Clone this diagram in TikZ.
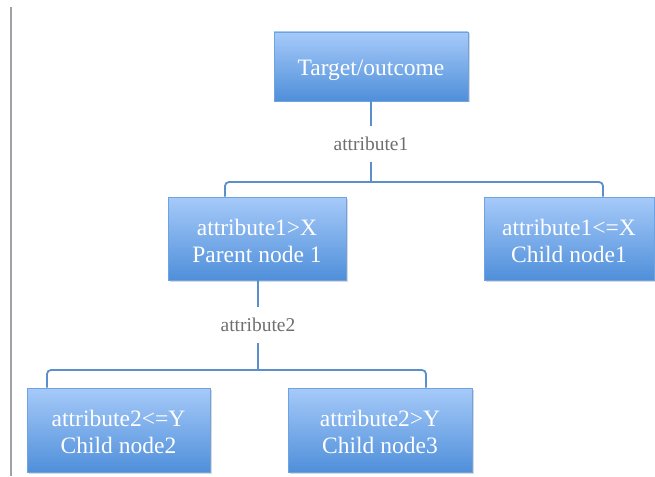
\documentclass[tikz,border=0pt]{standalone}
\usepackage{fontspec}
\setmainfont{Liberation Serif}
\usetikzlibrary{shadows}
\definecolor{boxtop}{HTML}{A6CAF9}
\definecolor{boxbot}{HTML}{4F8FDA}
\definecolor{boxline}{HTML}{6FA2E0}
\definecolor{link}{HTML}{5A8FCB}
\definecolor{labtxt}{HTML}{6E6E6E}
\tikzset{%
	block/.style    = {draw=boxline, line width=0.6pt, rectangle, top color=boxtop,
		bottom color=boxbot, text=white, align=center, inner sep=0pt,
		font=\fontsize{23.5}{27}\selectfont, minimum height=83pt,
		drop shadow={shadow xshift=1.5pt, shadow yshift=-1.5pt, opacity=0.3}},
	twoline/.style  = {block, text height=48pt}, % two rows of text
	split/.style    = {text=labtxt, inner sep=0pt, minimum height=36pt,
		font=\fontsize{19.5}{22}\selectfont}, % attribute label
	link/.style     = {draw=link, line width=1.8pt, rounded corners=4pt}
}
\begin{document}
\begin{tikzpicture}[x=1pt,y=-1pt]
			\useasboundingbox (0,0) rectangle (655,476);
			\draw[color={rgb,255:red,160;green,160;blue,168}, line width=1.3pt] (11,7) -- (11,476);

			\node[block, minimum width=194pt, minimum height=69pt, text height=24pt] (target) at (371,66.5) {Target/outcome};
			\node[split] (attr1) at (371,144) {attribute1};
			\coordinate (fork1) at (371,182);

			\node[twoline, minimum width=178pt] (parent) at (257,238.5) {attribute1>X\\Parent node 1};
			\node[twoline, minimum width=170pt] (child1) at (569,238.5) {attribute1<=X\\Child node1};

			\node[split] (attr2) at (258,325) {attribute2};
			\coordinate (fork2) at (258,370);

			\node[twoline, minimum width=183pt, minimum height=84pt] (child2) at (118.5,430) {attribute2<=Y\\Child node2};
			\node[twoline, minimum width=184pt, minimum height=84pt] (child3) at (380,430) {attribute2>Y\\Child node3};

			\draw[link] (target) -- (attr1);
			\draw[link] (attr1) -- (fork1);
			\draw[link] (fork1) -| ([xshift=-32pt]parent.north);
			\draw[link] (fork1) -| ([xshift=34pt]child1.north);
			\draw[link] (parent.south -| attr2) -- (attr2);
			\draw[link] (attr2) -- (fork2);
			\draw[link] (fork2) -| ([xshift=-71.5pt]child2.north);
			\draw[link] (fork2) -| ([xshift=46pt]child3.north);
		\end{tikzpicture}
\end{document}
